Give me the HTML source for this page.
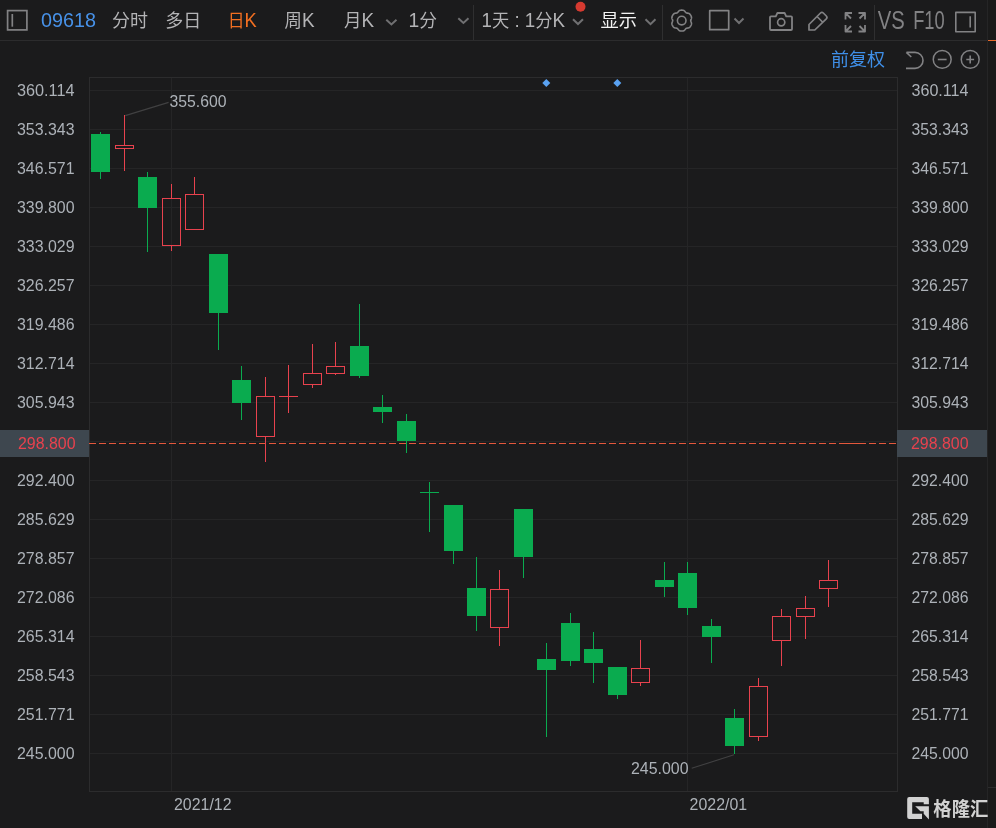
<!DOCTYPE html>
<html lang="zh-CN"><head><meta charset="utf-8"><title>09618 日K</title>
<style>
html,body{margin:0;padding:0;background:#1b1b1c;}
body{width:996px;height:828px;position:relative;overflow:hidden;font-family:"Liberation Sans","Noto Sans CJK SC",sans-serif;}
</style></head><body>
<svg width="996" height="828" viewBox="0 0 996 828" style="position:absolute;left:0;top:0">
<rect width="996" height="828" fill="#1b1b1c"/>
<rect x="0" y="40" width="987" height="1" fill="#2c2c2d"/>
<rect x="987" y="0" width="9" height="828" fill="#1a1a1a"/>
<rect x="987" y="0" width="1" height="828" fill="#252526"/>
<rect x="988" y="40" width="8" height="1" fill="#e8692a"/>
<rect x="988" y="787" width="8" height="1" fill="#2c2c2d"/>
<g shape-rendering="crispEdges">
<rect x="90" y="90" width="807" height="1" fill="#252526"/>
<rect x="90" y="129" width="807" height="1" fill="#252526"/>
<rect x="90" y="168" width="807" height="1" fill="#252526"/>
<rect x="90" y="207" width="807" height="1" fill="#252526"/>
<rect x="90" y="246" width="807" height="1" fill="#252526"/>
<rect x="90" y="285" width="807" height="1" fill="#252526"/>
<rect x="90" y="324" width="807" height="1" fill="#252526"/>
<rect x="90" y="363" width="807" height="1" fill="#252526"/>
<rect x="90" y="402" width="807" height="1" fill="#252526"/>
<rect x="90" y="441" width="807" height="1" fill="#252526"/>
<rect x="90" y="480" width="807" height="1" fill="#252526"/>
<rect x="90" y="519" width="807" height="1" fill="#252526"/>
<rect x="90" y="558" width="807" height="1" fill="#252526"/>
<rect x="90" y="597" width="807" height="1" fill="#252526"/>
<rect x="90" y="636" width="807" height="1" fill="#252526"/>
<rect x="90" y="675" width="807" height="1" fill="#252526"/>
<rect x="90" y="714" width="807" height="1" fill="#252526"/>
<rect x="90" y="753" width="807" height="1" fill="#252526"/>
<rect x="171" y="78" width="1" height="713" fill="#252526"/>
<rect x="687" y="78" width="1" height="713" fill="#252526"/>
<rect x="89.5" y="77.5" width="808" height="714" fill="none" stroke="#2c2c2d" stroke-width="1"/>
</g>
<g shape-rendering="crispEdges">
<rect x="89" y="443" width="7" height="1" fill="#e4583c"/>
<rect x="99" y="443" width="7" height="1" fill="#e4583c"/>
<rect x="109" y="443" width="7" height="1" fill="#e4583c"/>
<rect x="119" y="443" width="7" height="1" fill="#e4583c"/>
<rect x="129" y="443" width="7" height="1" fill="#e4583c"/>
<rect x="139" y="443" width="7" height="1" fill="#e4583c"/>
<rect x="149" y="443" width="7" height="1" fill="#e4583c"/>
<rect x="159" y="443" width="7" height="1" fill="#e4583c"/>
<rect x="169" y="443" width="7" height="1" fill="#e4583c"/>
<rect x="179" y="443" width="7" height="1" fill="#e4583c"/>
<rect x="189" y="443" width="7" height="1" fill="#e4583c"/>
<rect x="199" y="443" width="7" height="1" fill="#e4583c"/>
<rect x="209" y="443" width="7" height="1" fill="#e4583c"/>
<rect x="219" y="443" width="7" height="1" fill="#e4583c"/>
<rect x="229" y="443" width="7" height="1" fill="#e4583c"/>
<rect x="239" y="443" width="7" height="1" fill="#e4583c"/>
<rect x="249" y="443" width="7" height="1" fill="#e4583c"/>
<rect x="259" y="443" width="7" height="1" fill="#e4583c"/>
<rect x="269" y="443" width="7" height="1" fill="#e4583c"/>
<rect x="279" y="443" width="7" height="1" fill="#e4583c"/>
<rect x="289" y="443" width="7" height="1" fill="#e4583c"/>
<rect x="299" y="443" width="7" height="1" fill="#e4583c"/>
<rect x="309" y="443" width="7" height="1" fill="#e4583c"/>
<rect x="319" y="443" width="7" height="1" fill="#e4583c"/>
<rect x="329" y="443" width="7" height="1" fill="#e4583c"/>
<rect x="339" y="443" width="7" height="1" fill="#e4583c"/>
<rect x="349" y="443" width="7" height="1" fill="#e4583c"/>
<rect x="359" y="443" width="7" height="1" fill="#e4583c"/>
<rect x="369" y="443" width="7" height="1" fill="#e4583c"/>
<rect x="379" y="443" width="7" height="1" fill="#e4583c"/>
<rect x="389" y="443" width="7" height="1" fill="#e4583c"/>
<rect x="399" y="443" width="7" height="1" fill="#e4583c"/>
<rect x="409" y="443" width="7" height="1" fill="#e4583c"/>
<rect x="419" y="443" width="7" height="1" fill="#e4583c"/>
<rect x="429" y="443" width="7" height="1" fill="#e4583c"/>
<rect x="439" y="443" width="7" height="1" fill="#e4583c"/>
<rect x="449" y="443" width="7" height="1" fill="#e4583c"/>
<rect x="459" y="443" width="7" height="1" fill="#e4583c"/>
<rect x="469" y="443" width="7" height="1" fill="#e4583c"/>
<rect x="479" y="443" width="7" height="1" fill="#e4583c"/>
<rect x="489" y="443" width="7" height="1" fill="#e4583c"/>
<rect x="499" y="443" width="7" height="1" fill="#e4583c"/>
<rect x="509" y="443" width="7" height="1" fill="#e4583c"/>
<rect x="519" y="443" width="7" height="1" fill="#e4583c"/>
<rect x="529" y="443" width="7" height="1" fill="#e4583c"/>
<rect x="539" y="443" width="7" height="1" fill="#e4583c"/>
<rect x="549" y="443" width="7" height="1" fill="#e4583c"/>
<rect x="559" y="443" width="7" height="1" fill="#e4583c"/>
<rect x="569" y="443" width="7" height="1" fill="#e4583c"/>
<rect x="579" y="443" width="7" height="1" fill="#e4583c"/>
<rect x="589" y="443" width="7" height="1" fill="#e4583c"/>
<rect x="599" y="443" width="7" height="1" fill="#e4583c"/>
<rect x="609" y="443" width="7" height="1" fill="#e4583c"/>
<rect x="619" y="443" width="7" height="1" fill="#e4583c"/>
<rect x="629" y="443" width="7" height="1" fill="#e4583c"/>
<rect x="639" y="443" width="7" height="1" fill="#e4583c"/>
<rect x="649" y="443" width="7" height="1" fill="#e4583c"/>
<rect x="659" y="443" width="7" height="1" fill="#e4583c"/>
<rect x="669" y="443" width="7" height="1" fill="#e4583c"/>
<rect x="679" y="443" width="7" height="1" fill="#e4583c"/>
<rect x="689" y="443" width="7" height="1" fill="#e4583c"/>
<rect x="699" y="443" width="7" height="1" fill="#e4583c"/>
<rect x="709" y="443" width="7" height="1" fill="#e4583c"/>
<rect x="719" y="443" width="7" height="1" fill="#e4583c"/>
<rect x="729" y="443" width="7" height="1" fill="#e4583c"/>
<rect x="739" y="443" width="7" height="1" fill="#e4583c"/>
<rect x="749" y="443" width="7" height="1" fill="#e4583c"/>
<rect x="759" y="443" width="7" height="1" fill="#e4583c"/>
<rect x="769" y="443" width="7" height="1" fill="#e4583c"/>
<rect x="779" y="443" width="7" height="1" fill="#e4583c"/>
<rect x="789" y="443" width="7" height="1" fill="#e4583c"/>
<rect x="799" y="443" width="7" height="1" fill="#e4583c"/>
<rect x="809" y="443" width="7" height="1" fill="#e4583c"/>
<rect x="819" y="443" width="7" height="1" fill="#e4583c"/>
<rect x="829" y="443" width="7" height="1" fill="#e4583c"/>
<rect x="839" y="443" width="7" height="1" fill="#e4583c"/>
<rect x="849" y="443" width="7" height="1" fill="#e4583c"/>
<rect x="859" y="443" width="7" height="1" fill="#e4583c"/>
<rect x="869" y="443" width="7" height="1" fill="#e4583c"/>
<rect x="879" y="443" width="7" height="1" fill="#e4583c"/>
<rect x="889" y="443" width="7" height="1" fill="#e4583c"/>
<rect x="839" y="443" width="27" height="1" fill="#e4583c"/>
</g>
<g shape-rendering="crispEdges">
<rect x="100" y="132" width="1" height="47" fill="#0aab4f"/>
<rect x="91" y="134" width="19" height="38" fill="#0aab4f"/>
<rect x="124" y="115" width="1" height="30" fill="#e8424e"/>
<rect x="124" y="149" width="1" height="22" fill="#e8424e"/>
<rect x="115.5" y="145.5" width="18" height="3" fill="none" stroke="#e8424e" stroke-width="1"/>
<rect x="147" y="172" width="1" height="80" fill="#0aab4f"/>
<rect x="138" y="177" width="19" height="31" fill="#0aab4f"/>
<rect x="171" y="184" width="1" height="14" fill="#e8424e"/>
<rect x="171" y="246" width="1" height="5" fill="#e8424e"/>
<rect x="162.5" y="198.5" width="18" height="47" fill="none" stroke="#e8424e" stroke-width="1"/>
<rect x="194" y="177" width="1" height="17" fill="#e8424e"/>
<rect x="185.5" y="194.5" width="18" height="35" fill="none" stroke="#e8424e" stroke-width="1"/>
<rect x="218" y="254" width="1" height="96" fill="#0aab4f"/>
<rect x="209" y="254" width="19" height="59" fill="#0aab4f"/>
<rect x="241" y="366" width="1" height="54" fill="#0aab4f"/>
<rect x="232" y="380" width="19" height="23" fill="#0aab4f"/>
<rect x="265" y="377" width="1" height="19" fill="#e8424e"/>
<rect x="265" y="437" width="1" height="25" fill="#e8424e"/>
<rect x="256.5" y="396.5" width="18" height="40" fill="none" stroke="#e8424e" stroke-width="1"/>
<rect x="288" y="365" width="1" height="31" fill="#e8424e"/>
<rect x="288" y="397" width="1" height="16" fill="#e8424e"/>
<rect x="279" y="396" width="19" height="1" fill="#e8424e"/>
<rect x="312" y="344" width="1" height="29" fill="#e8424e"/>
<rect x="312" y="385" width="1" height="3" fill="#e8424e"/>
<rect x="303.5" y="373.5" width="18" height="11" fill="none" stroke="#e8424e" stroke-width="1"/>
<rect x="335" y="342" width="1" height="24" fill="#e8424e"/>
<rect x="335" y="374" width="1" height="1" fill="#e8424e"/>
<rect x="326.5" y="366.5" width="18" height="7" fill="none" stroke="#e8424e" stroke-width="1"/>
<rect x="359" y="304" width="1" height="74" fill="#0aab4f"/>
<rect x="350" y="346" width="19" height="30" fill="#0aab4f"/>
<rect x="382" y="395" width="1" height="28" fill="#0aab4f"/>
<rect x="373" y="407" width="19" height="5" fill="#0aab4f"/>
<rect x="406" y="414" width="1" height="39" fill="#0aab4f"/>
<rect x="397" y="421" width="19" height="20" fill="#0aab4f"/>
<rect x="429" y="482" width="1" height="50" fill="#0aab4f"/>
<rect x="420" y="492" width="19" height="1" fill="#0aab4f"/>
<rect x="453" y="505" width="1" height="59" fill="#0aab4f"/>
<rect x="444" y="505" width="19" height="46" fill="#0aab4f"/>
<rect x="476" y="557" width="1" height="74" fill="#0aab4f"/>
<rect x="467" y="588" width="19" height="28" fill="#0aab4f"/>
<rect x="499" y="570" width="1" height="19" fill="#e8424e"/>
<rect x="499" y="628" width="1" height="18" fill="#e8424e"/>
<rect x="490.5" y="589.5" width="18" height="38" fill="none" stroke="#e8424e" stroke-width="1"/>
<rect x="523" y="509" width="1" height="69" fill="#0aab4f"/>
<rect x="514" y="509" width="19" height="48" fill="#0aab4f"/>
<rect x="546" y="643" width="1" height="94" fill="#0aab4f"/>
<rect x="537" y="659" width="19" height="11" fill="#0aab4f"/>
<rect x="570" y="613" width="1" height="53" fill="#0aab4f"/>
<rect x="561" y="623" width="19" height="38" fill="#0aab4f"/>
<rect x="593" y="632" width="1" height="51" fill="#0aab4f"/>
<rect x="584" y="649" width="19" height="14" fill="#0aab4f"/>
<rect x="617" y="667" width="1" height="32" fill="#0aab4f"/>
<rect x="608" y="667" width="19" height="28" fill="#0aab4f"/>
<rect x="640" y="640" width="1" height="28" fill="#e8424e"/>
<rect x="640" y="683" width="1" height="3" fill="#e8424e"/>
<rect x="631.5" y="668.5" width="18" height="14" fill="none" stroke="#e8424e" stroke-width="1"/>
<rect x="664" y="562" width="1" height="35" fill="#0aab4f"/>
<rect x="655" y="580" width="19" height="7" fill="#0aab4f"/>
<rect x="687" y="562" width="1" height="53" fill="#0aab4f"/>
<rect x="678" y="573" width="19" height="35" fill="#0aab4f"/>
<rect x="711" y="619" width="1" height="44" fill="#0aab4f"/>
<rect x="702" y="626" width="19" height="11" fill="#0aab4f"/>
<rect x="734" y="709" width="1" height="45" fill="#0aab4f"/>
<rect x="725" y="718" width="19" height="28" fill="#0aab4f"/>
<rect x="758" y="678" width="1" height="8" fill="#e8424e"/>
<rect x="758" y="737" width="1" height="4" fill="#e8424e"/>
<rect x="749.5" y="686.5" width="18" height="50" fill="none" stroke="#e8424e" stroke-width="1"/>
<rect x="781" y="609" width="1" height="7" fill="#e8424e"/>
<rect x="781" y="641" width="1" height="25" fill="#e8424e"/>
<rect x="772.5" y="616.5" width="18" height="24" fill="none" stroke="#e8424e" stroke-width="1"/>
<rect x="805" y="596" width="1" height="12" fill="#e8424e"/>
<rect x="805" y="617" width="1" height="22" fill="#e8424e"/>
<rect x="796.5" y="608.5" width="18" height="8" fill="none" stroke="#e8424e" stroke-width="1"/>
<rect x="828" y="560" width="1" height="20" fill="#e8424e"/>
<rect x="828" y="589" width="1" height="18" fill="#e8424e"/>
<rect x="819.5" y="580.5" width="18" height="8" fill="none" stroke="#e8424e" stroke-width="1"/>
</g>
<line x1="125.3" y1="115.6" x2="168.6" y2="102.4" stroke="#414142" stroke-width="1.1"/>
<line x1="691.7" y1="768.3" x2="734" y2="754.8" stroke="#414142" stroke-width="1.1"/>
<path d="M546.3 79 l4 4 l-4 4 l-4 -4z" fill="#5aa2f2"/>
<path d="M617.3 79 l4 4 l-4 4 l-4 -4z" fill="#5aa2f2"/>
<rect x="0" y="430" width="89" height="27" fill="#3e474f"/>
<rect x="897" y="430" width="90" height="27" fill="#3e474f"/>
<g font-family="'Liberation Sans', Arial, sans-serif" font-size="16" fill="#adb2b8">
<text x="17" y="96" textLength="57.5" lengthAdjust="spacingAndGlyphs">360.114</text>
<text x="911.5" y="96" textLength="57" lengthAdjust="spacingAndGlyphs">360.114</text>
<text x="17" y="135" textLength="57.5" lengthAdjust="spacingAndGlyphs">353.343</text>
<text x="911.5" y="135" textLength="57" lengthAdjust="spacingAndGlyphs">353.343</text>
<text x="17" y="174" textLength="57.5" lengthAdjust="spacingAndGlyphs">346.571</text>
<text x="911.5" y="174" textLength="57" lengthAdjust="spacingAndGlyphs">346.571</text>
<text x="17" y="213" textLength="57.5" lengthAdjust="spacingAndGlyphs">339.800</text>
<text x="911.5" y="213" textLength="57" lengthAdjust="spacingAndGlyphs">339.800</text>
<text x="17" y="252" textLength="57.5" lengthAdjust="spacingAndGlyphs">333.029</text>
<text x="911.5" y="252" textLength="57" lengthAdjust="spacingAndGlyphs">333.029</text>
<text x="17" y="291" textLength="57.5" lengthAdjust="spacingAndGlyphs">326.257</text>
<text x="911.5" y="291" textLength="57" lengthAdjust="spacingAndGlyphs">326.257</text>
<text x="17" y="330" textLength="57.5" lengthAdjust="spacingAndGlyphs">319.486</text>
<text x="911.5" y="330" textLength="57" lengthAdjust="spacingAndGlyphs">319.486</text>
<text x="17" y="369" textLength="57.5" lengthAdjust="spacingAndGlyphs">312.714</text>
<text x="911.5" y="369" textLength="57" lengthAdjust="spacingAndGlyphs">312.714</text>
<text x="17" y="408" textLength="57.5" lengthAdjust="spacingAndGlyphs">305.943</text>
<text x="911.5" y="408" textLength="57" lengthAdjust="spacingAndGlyphs">305.943</text>
<text x="17" y="486" textLength="57.5" lengthAdjust="spacingAndGlyphs">292.400</text>
<text x="911.5" y="486" textLength="57" lengthAdjust="spacingAndGlyphs">292.400</text>
<text x="17" y="525" textLength="57.5" lengthAdjust="spacingAndGlyphs">285.629</text>
<text x="911.5" y="525" textLength="57" lengthAdjust="spacingAndGlyphs">285.629</text>
<text x="17" y="564" textLength="57.5" lengthAdjust="spacingAndGlyphs">278.857</text>
<text x="911.5" y="564" textLength="57" lengthAdjust="spacingAndGlyphs">278.857</text>
<text x="17" y="603" textLength="57.5" lengthAdjust="spacingAndGlyphs">272.086</text>
<text x="911.5" y="603" textLength="57" lengthAdjust="spacingAndGlyphs">272.086</text>
<text x="17" y="642" textLength="57.5" lengthAdjust="spacingAndGlyphs">265.314</text>
<text x="911.5" y="642" textLength="57" lengthAdjust="spacingAndGlyphs">265.314</text>
<text x="17" y="681" textLength="57.5" lengthAdjust="spacingAndGlyphs">258.543</text>
<text x="911.5" y="681" textLength="57" lengthAdjust="spacingAndGlyphs">258.543</text>
<text x="17" y="720" textLength="57.5" lengthAdjust="spacingAndGlyphs">251.771</text>
<text x="911.5" y="720" textLength="57" lengthAdjust="spacingAndGlyphs">251.771</text>
<text x="17" y="759" textLength="57.5" lengthAdjust="spacingAndGlyphs">245.000</text>
<text x="911.5" y="759" textLength="57" lengthAdjust="spacingAndGlyphs">245.000</text>
<text x="18" y="449" fill="#e8424e" textLength="57.5" lengthAdjust="spacingAndGlyphs">298.800</text>
<text x="911" y="449" fill="#e8424e" textLength="57.5" lengthAdjust="spacingAndGlyphs">298.800</text>
<text x="169.5" y="107" textLength="57" lengthAdjust="spacingAndGlyphs">355.600</text>
<text x="631" y="774" textLength="57.5" lengthAdjust="spacingAndGlyphs">245.000</text>
<text x="174" y="810.4" textLength="57.5" lengthAdjust="spacingAndGlyphs">2021/12</text>
<text x="689.6" y="810.4" textLength="57.5" lengthAdjust="spacingAndGlyphs">2022/01</text>
</g>
<g fill="none" stroke="#828284" stroke-width="2">
<rect x="7.6" y="10.6" width="19.3" height="19.3" stroke-width="1.7"/>
<line x1="12.3" y1="14" x2="12.3" y2="26.7" stroke-width="1.7"/>
</g>
<g font-family="'Liberation Sans', 'Noto Sans CJK SC', sans-serif" font-size="18">
<text x="41" y="26.8" font-size="19.5" fill="#4791e7" textLength="55" lengthAdjust="spacingAndGlyphs">09618</text>
<g fill="#b4b4b6">
<text x="112" y="26.6" textLength="36" lengthAdjust="spacingAndGlyphs">分时</text>
<text x="165.3" y="26.6" textLength="36" lengthAdjust="spacingAndGlyphs">多日</text>
<text x="227.8" y="26.6" fill="#f26f21" textLength="29" lengthAdjust="spacingAndGlyphs">日<tspan font-size="19.6" dy="0.5">K</tspan></text>
<text x="284.5" y="26.6" textLength="30" lengthAdjust="spacingAndGlyphs">周<tspan font-size="19.6" dy="0.5">K</tspan></text>
<text x="344" y="26.6" textLength="30" lengthAdjust="spacingAndGlyphs">月<tspan font-size="19.6" dy="0.5">K</tspan></text>
<text x="408.5" y="27.1" textLength="28.5" lengthAdjust="spacingAndGlyphs"><tspan font-size="19.6" dy="0">1</tspan><tspan dy="-0.5">分</tspan></text>
<text x="481.5" y="27.1" textLength="83.5" lengthAdjust="spacingAndGlyphs"><tspan font-size="19.6" dy="0">1</tspan><tspan dy="-0.5">天</tspan><tspan font-size="19.6" dy="0.5"> : 1</tspan><tspan dy="-0.5">分</tspan><tspan font-size="19.6" dy="0.5">K</tspan></text>
<text x="600.5" y="26.6" fill="#f2f2f2" textLength="36.5" lengthAdjust="spacingAndGlyphs">显示</text>
</g>
<text x="831" y="65.5" fill="#3f8fe8" textLength="54" lengthAdjust="spacingAndGlyphs">前复权</text>
</g>
<path d="M386.3 19.8 L391.4 24.4 L396.5 19.8" fill="none" stroke="#707072" stroke-width="2"/>
<path d="M458.3 18.3 L463.4 22.9 L468.5 18.3" fill="none" stroke="#707072" stroke-width="2"/>
<path d="M573 19.2 L578.0 24 L583 19.2" fill="none" stroke="#707072" stroke-width="2"/>
<path d="M645.5 19.3 L650.5 24.2 L655.5 19.3" fill="none" stroke="#707072" stroke-width="2"/>
<path d="M734.5 18.5 L739.0 23 L743.5 18.5" fill="none" stroke="#707072" stroke-width="2"/>
<rect x="473" y="5" width="1" height="35" fill="#2f2f30"/>
<rect x="662" y="5" width="1" height="35" fill="#2f2f30"/>
<rect x="874" y="5" width="1" height="35" fill="#2f2f30"/>
<circle cx="580.5" cy="6.7" r="5" fill="#d63a30"/>
<g fill="none" stroke="#828284" stroke-width="1.7" stroke-linejoin="round">
<path d="M690.70 20.60 L690.72 20.36 L690.76 20.12 L690.84 19.88 L690.94 19.63 L691.05 19.37 L691.16 19.10 L691.27 18.83 L691.36 18.55 L691.44 18.26 L691.49 17.98 L691.51 17.69 L691.51 17.41 L691.47 17.14 L691.41 16.87 L691.33 16.61 L691.24 16.35 L691.13 16.10 L691.01 15.86 L690.88 15.61 L690.75 15.38 L690.61 15.14 L690.46 14.91 L690.31 14.68 L690.15 14.46 L689.97 14.25 L689.79 14.05 L689.58 13.87 L689.36 13.70 L689.12 13.56 L688.87 13.43 L688.59 13.33 L688.31 13.26 L688.02 13.20 L687.73 13.16 L687.44 13.12 L687.16 13.09 L686.89 13.04 L686.64 12.99 L686.41 12.91 L686.20 12.81 L686.00 12.67 L685.82 12.51 L685.65 12.32 L685.48 12.12 L685.31 11.89 L685.13 11.66 L684.95 11.43 L684.75 11.20 L684.54 11.00 L684.32 10.81 L684.09 10.65 L683.84 10.52 L683.59 10.41 L683.33 10.32 L683.06 10.26 L682.79 10.22 L682.52 10.18 L682.25 10.16 L681.97 10.15 L681.70 10.15 L681.43 10.15 L681.15 10.16 L680.88 10.18 L680.61 10.22 L680.34 10.26 L680.07 10.32 L679.81 10.41 L679.56 10.52 L679.31 10.65 L679.08 10.81 L678.86 11.00 L678.65 11.20 L678.45 11.43 L678.27 11.66 L678.09 11.89 L677.92 12.12 L677.75 12.32 L677.58 12.51 L677.40 12.67 L677.20 12.81 L676.99 12.91 L676.76 12.99 L676.51 13.04 L676.24 13.09 L675.96 13.12 L675.67 13.16 L675.38 13.20 L675.09 13.26 L674.81 13.33 L674.53 13.43 L674.28 13.56 L674.04 13.70 L673.82 13.87 L673.61 14.05 L673.43 14.25 L673.25 14.46 L673.09 14.68 L672.94 14.91 L672.79 15.14 L672.65 15.38 L672.52 15.61 L672.39 15.86 L672.27 16.10 L672.16 16.35 L672.07 16.61 L671.99 16.87 L671.93 17.14 L671.89 17.41 L671.89 17.69 L671.91 17.98 L671.96 18.26 L672.04 18.55 L672.13 18.83 L672.24 19.10 L672.35 19.37 L672.46 19.63 L672.56 19.88 L672.64 20.12 L672.68 20.36 L672.70 20.60 L672.68 20.84 L672.64 21.08 L672.56 21.32 L672.46 21.57 L672.35 21.83 L672.24 22.10 L672.13 22.37 L672.04 22.65 L671.96 22.94 L671.91 23.22 L671.89 23.51 L671.89 23.79 L671.93 24.06 L671.99 24.33 L672.07 24.59 L672.16 24.85 L672.27 25.10 L672.39 25.34 L672.52 25.59 L672.65 25.82 L672.79 26.06 L672.94 26.29 L673.09 26.52 L673.25 26.74 L673.43 26.95 L673.61 27.15 L673.82 27.33 L674.04 27.50 L674.28 27.64 L674.53 27.77 L674.81 27.87 L675.09 27.94 L675.38 28.00 L675.67 28.04 L675.96 28.08 L676.24 28.11 L676.51 28.16 L676.76 28.21 L676.99 28.29 L677.20 28.39 L677.40 28.53 L677.58 28.69 L677.75 28.88 L677.92 29.08 L678.09 29.31 L678.27 29.54 L678.45 29.77 L678.65 30.00 L678.86 30.20 L679.08 30.39 L679.31 30.55 L679.56 30.68 L679.81 30.79 L680.07 30.88 L680.34 30.94 L680.61 30.98 L680.88 31.02 L681.15 31.04 L681.43 31.05 L681.70 31.05 L681.97 31.05 L682.25 31.04 L682.52 31.02 L682.79 30.98 L683.06 30.94 L683.33 30.88 L683.59 30.79 L683.84 30.68 L684.09 30.55 L684.32 30.39 L684.54 30.20 L684.75 30.00 L684.95 29.77 L685.13 29.54 L685.31 29.31 L685.48 29.08 L685.65 28.88 L685.82 28.69 L686.00 28.53 L686.20 28.39 L686.41 28.29 L686.64 28.21 L686.89 28.16 L687.16 28.11 L687.44 28.08 L687.73 28.04 L688.02 28.00 L688.31 27.94 L688.59 27.87 L688.87 27.77 L689.12 27.64 L689.36 27.50 L689.58 27.33 L689.79 27.15 L689.97 26.95 L690.15 26.74 L690.31 26.52 L690.46 26.29 L690.61 26.06 L690.75 25.82 L690.88 25.59 L691.01 25.34 L691.13 25.10 L691.24 24.85 L691.33 24.59 L691.41 24.33 L691.47 24.06 L691.51 23.79 L691.51 23.51 L691.49 23.22 L691.44 22.94 L691.36 22.65 L691.27 22.37 L691.16 22.10 L691.05 21.83 L690.94 21.57 L690.84 21.32 L690.76 21.08 L690.72 20.84 Z" stroke-width="1.6"/>
<circle cx="681.7" cy="20.6" r="4.3" stroke-width="1.6"/>
<rect x="709.7" y="10.7" width="19" height="19"/>
<path d="M771 16.3 h4.8 l1.6 -3.3 h7.2 l1.6 3.3 h4.8 a1 1 0 0 1 1 1 v11.7 a1 1 0 0 1 -1 1 h-20 a1 1 0 0 1 -1 -1 v-11.7 a1 1 0 0 1 1 -1z" stroke-width="1.8"/>
<circle cx="781.2" cy="22.3" r="3.6"/>
<path d="M809 30 v-5.5 l11.5 -11.5 a2 2 0 0 1 2.8 0 l3 3 a2 2 0 0 1 0 2.8 l-11.5 11.2z M817 16.5 l6 6"/>
<path d="M845.5 19.5 v-6.5 h6.5 M845.5 13 l5.5 5.5 M858.5 13 h6.5 v6.5 M865 13 l-5.5 5.5 M845.5 25 v6.5 h6.5 M845.5 31.5 l5.5 -5.5 M858.5 31.5 h6.5 v-6.5 M865 31.5 l-5.5 -5.5" stroke-width="1.8"/>
<rect x="955.8" y="12.4" width="19.4" height="19.4" stroke-width="1.6"/>
<line x1="970.2" y1="16.2" x2="970.2" y2="27.6" stroke-width="1.6"/>
<path d="M906 68.4 h9 a8 8 0 0 0 0 -16 h-8.5 M911.3 57 l-5 -4.6" stroke-width="1.6"/>
<circle cx="942.2" cy="59.4" r="8.95" stroke-width="1.5"/>
<line x1="937.8" y1="59.5" x2="946.6" y2="59.5" stroke-width="1.6"/>
<circle cx="970.2" cy="59.4" r="8.95" stroke-width="1.5"/>
<path d="M966.3 59.5 h7.8 M970.2 55.6 v7.8" stroke-width="1.6"/>
</g>
<g font-family="'Liberation Sans', Arial, sans-serif" font-size="25.8" fill="#828284">
<text x="877.8" y="29.3" textLength="27" lengthAdjust="spacingAndGlyphs">VS</text>
<text x="913.2" y="29.3" textLength="31.5" lengthAdjust="spacingAndGlyphs">F10</text>
</g>
<g fill="#d2d2d2">
<path d="M909.2 797 H926.9 a2 2 0 0 1 2 2 V804.3 H923.7 V802.2 H912.2 V813.7 H922 V818.9 H909.2 a2 2 0 0 1 -2 -2 V799 a2 2 0 0 1 2 -2Z"/>
<path d="M915.2 806.2 H928.9 V819.6 L923.7 813.7 V811.3 H920.4Z"/>
<text x="933.3" y="816" font-family="'Liberation Sans', 'Noto Sans CJK SC', sans-serif" font-weight="bold" font-size="19.5" textLength="55" lengthAdjust="spacingAndGlyphs">格隆汇</text>
</g>
</svg>
</body></html>
